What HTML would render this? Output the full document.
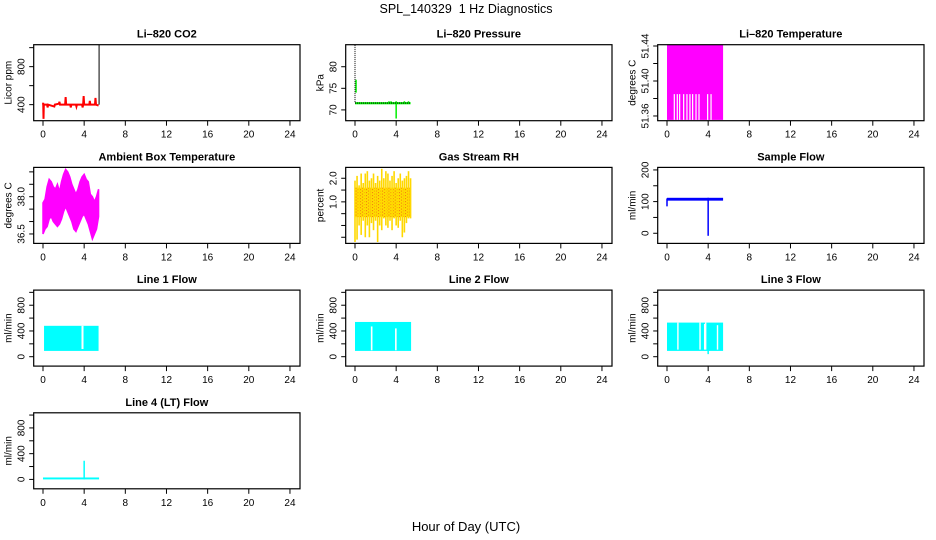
<!DOCTYPE html>
<html><head><meta charset="utf-8"><style>
body{margin:0;background:#fff}
svg{display:block;font-family:"Liberation Sans",sans-serif}
</style></head><body>
<svg id="c" width="936" height="540" viewBox="0 0 936 540">
<defs><pattern id="dots" width="3" height="3" patternUnits="userSpaceOnUse"><rect width="3" height="3" fill="#ffea00"/><rect x="0" y="0" width="1.2" height="1.2" fill="#e8281e"/><rect x="1.5" y="1.5" width="1.2" height="1.2" fill="#e8281e"/></pattern></defs>
<text x="466" y="13" text-anchor="middle" font-size="12.5">SPL_140329&#160; 1 Hz Diagnostics</text>
<text x="466" y="531" text-anchor="middle" font-size="13">Hour of Day (UTC)</text>
</svg>
<script>
const xTicks=[0,4,8,12,16,20,24];
// CO2
const co2T=[0,0.02,0.05,0.08,0.4,0.45,0.5,1.1,1.15,1.55,1.6,1.65,2.15,2.2,2.25,2.65,2.7,2.75,3.2,3.25,3.3,3.8,3.85,3.9,3.95,4.0,4.5,4.55,4.6,5.05,5.1,5.15,5.4];
const co2V=[400,420,250,400,400,370,400,380,400,410,430,400,400,480,400,400,370,400,400,380,400,400,370,400,490,400,400,440,400,400,470,400,390];
const co2SpikeT=[5.45,5.45];const co2SpikeV=[400,1030];
// Pressure
const presBand=[0,5.4,71.3,71.8];
const presSpikeT=[0.1,4.0,3.3,3.5,4.8,5.2];const presSpikeLo=[74,68,71.5,71.5,71.5,71.5];const presSpikeHi=[77,72,72,72,72,72];
const presStartV=[85,71.6];
// Li-820 temperature
const ltBand=[0,5.45,51.3555,51.4415];
const ltGapT=[0.71,1.0,1.23,1.62,1.94,2.23,2.49,2.82,3.11,3.95,4.28];const ltGapLo=51.3555, ltGapHi=51.385;
// Ambient
const ambT=[0,0.2,0.4,0.6,0.8,1.0,1.2,1.4,1.6,1.8,2.0,2.2,2.4,2.6,2.8,3.0,3.2,3.4,3.6,3.8,4.0,4.2,4.4,4.6,4.8,5.0,5.2,5.4];
const ambHi=[37.75,37.9,38.4,38.7,38.6,38.4,38.3,38.5,38.2,38.6,38.9,39.1,39.0,38.8,38.5,38.3,38.1,38.3,38.6,38.8,38.9,38.7,38.6,38.1,38.0,37.8,38.0,38.3];
const ambLo=[36.5,36.7,36.8,37.1,37.2,37.0,36.9,36.8,36.9,37.1,37.4,37.6,37.4,37.2,37.0,36.7,36.6,36.8,37.0,37.2,37.3,37.1,36.9,36.6,36.3,36.5,36.7,37.2];
// RH
const rhT=[0,0.2,0.4,0.6,0.8,1.0,1.2,1.4,1.6,1.8,2.0,2.2,2.4,2.6,2.8,3.0,3.2,3.4,3.6,3.8,4.0,4.2,4.4,4.6,4.8,5.0,5.2,5.4];
const rhHi=[1.9,2.1,1.7,2.2,1.8,2.2,2.3,1.9,2.0,2.2,1.8,2.1,1.9,2.4,2.0,2.3,2.2,1.9,2.1,2.3,1.8,2.0,2.2,1.9,2.0,2.1,2.3,2.0];
const rhLo=[-0.7,-0.6,0.0,-0.4,0.2,-0.5,0.0,-0.5,0.1,-0.2,0.2,-0.7,0.0,-0.2,0.3,0.0,-0.1,0.2,-0.2,0.3,0.0,-0.1,0.2,-0.5,-0.3,0.1,0.3,0.3];
const rhCore=[0,5.4,0.35,1.6];
// Sample flow
const sfBand=[0,5.45,103,112];
const sfSpikeT=[0,4.0];const sfSpikeLo=[85,-8];const sfSpikeHi=[110,112];
// Line flows
const l1Band=[0.1,5.4,90,480];const l1GapT=[3.8];const l1GapLo=[120];const l1GapHi=[480];
const l2Band=[0,5.45,90,540];const l2GapT=[1.6,3.95];const l2GapLo=[100,100];const l2GapHi=[470,440];
const l3Band=[0,5.45,90,530];const l3GapT=[1.05,3.2,3.65,3.75,4.9];const l3GapLo=[110,110,110,110,110];const l3GapHi=[530,530,510,530,490];
const l3SpikeT=[4.0];const l3SpikeLo=[40];const l3SpikeHi=[200];
const l4Band=[0,5.45,0,30];const l4SpikeT=[4.0];const l4SpikeLo=[0];const l4SpikeHi=[290];

const svg=document.getElementById('c');const NS='http://www.w3.org/2000/svg';
function mk(tag,attrs,parent){const e=document.createElementNS(NS,tag);for(const k in attrs)e.setAttribute(k,attrs[k]);(parent||svg).appendChild(e);return e;}
function panel(r,c,title,ylab,ymin,ymax,yticks,ylabels,name){
  const L=33.7+312*c,T=44.7+122.7*r,W=266.3,H=76,x0=L+9.3,sx=10.29;
  const g=mk('g',{});
  
  
  const X=t=>x0+t*sx, Y=v=>T+H-(v-ymin)/(ymax-ymin)*H;
  const plot=mk('g',{},g);
  
  
  const box=mk('rect',{x:L,y:T,width:W,height:H,fill:'none',stroke:'#000','stroke-width':1.2},g);
  
  
  const tt=mk('text',{x:L+W/2,y:T-7,'text-anchor':'middle','font-size':11,'font-weight':'bold'},g);tt.textContent=title;
  
  
  xTicks.forEach(t=>{mk('line',{x1:X(t),x2:X(t),y1:T+H,y2:T+H+5,stroke:'#000'},g);
    const tx=mk('text',{x:X(t),y:T+H+17,'text-anchor':'middle','font-size':10},g);tx.textContent=t;
    
    });
  yticks.forEach(v=>{mk('line',{x1:L-4.5,x2:L,y1:Y(v),y2:Y(v),stroke:'#000'},g);});
  ylabels.forEach(v=>{const tx=mk('text',{x:0,y:0,'text-anchor':'middle','font-size':10,transform:`translate(${L-9},${Y(v)}) rotate(-90)`},g);tx.textContent=v;
    
    });
  const yl=mk('text',{x:0,y:0,'text-anchor':'middle','font-size':10,transform:`translate(${L-22},${T+H/2}) rotate(-90)`},g);yl.textContent=ylab;
  
  
  return {X,Y,p:plot};
}
function band(P,b,fill){mk('rect',{x:P.X(b[0]),y:P.Y(b[3]),width:P.X(b[1])-P.X(b[0]),height:Math.max(1,P.Y(b[2])-P.Y(b[3])),fill:fill},P.p);}
function gaps(P,ts,lo,hi,w){ts.forEach((t,i)=>{const l=Array.isArray(lo)?lo[i]:lo,h=Array.isArray(hi)?hi[i]:hi;mk('rect',{x:P.X(t)-0.6,y:P.Y(h),width:w||1.4,height:P.Y(l)-P.Y(h),fill:'#fff'},P.p);});}
function spikes(P,ts,lo,hi,col,w){ts.forEach((t,i)=>{mk('line',{x1:P.X(t),x2:P.X(t),y1:P.Y(lo[i]),y2:P.Y(hi[i]),stroke:col,'stroke-width':w||1.5},P.p);});}
function line(P,ts,vs,col,w,dash){const pts=ts.map((t,i)=>P.X(t)+','+P.Y(vs[i])).join(' ');const a={points:pts,fill:'none',stroke:col,'stroke-width':w};if(dash)a['stroke-dasharray']=dash;mk('polyline',a,P.p);}

let P;
P=panel(0,0,'Li\u2013820 CO2','Licor ppm',231,1031,[400,600,800,1000],[400,800],'co2');
line(P,co2T,co2V,'#ff0000',2);line(P,co2SpikeT,co2SpikeV,'#000',1);
P=panel(0,1,'Li\u2013820 Pressure','kPa',67.5,85.1,[70,75,80],[70,75,80],'pressure');
band(P,presBand,'#00ee00');spikes(P,presSpikeT,presSpikeLo,presSpikeHi,'#00ee00',1.5);
line(P,[0,0],presStartV,'#000',1,'1,1');line(P,[0,5.4],[71.6,71.6],'#000',1,'1,1');
P=panel(0,2,'Li\u2013820 Temperature','degrees C',51.3546,51.4415,[51.36,51.38,51.40,51.42,51.44],['51.36','51.40','51.44'],'li820-temp');
band(P,ltBand,'#ff00ff');gaps(P,ltGapT,ltGapLo,ltGapHi,1.2);
P=panel(1,0,'Ambient Box Temperature','degrees C',36.12,39.18,[36.5,37,37.5,38,38.5,39],['36.5','38.0'],'ambient-temp');
{const pts=ambT.map((t,i)=>P.X(t)+','+P.Y(ambHi[i])).concat(ambT.slice().reverse().map((t,i)=>P.X(t)+','+P.Y(ambLo[ambLo.length-1-i]))).join(' ');mk('polygon',{points:pts,fill:'#ff00ff',stroke:'#ff00ff','stroke-width':1.5},P.p);}
P=panel(1,1,'Gas Stream RH','percent',-0.76,2.46,[-0.5,0,0.5,1,1.5,2],['\u22120.5','1.0','2.0'],'rh');
band(P,rhCore,'url(#dots)');spikes(P,rhT,rhLo,rhHi,'#ffd800',1.6);
P=panel(1,2,'Sample Flow','ml/min',-32,208,[0,50,100,150,200],[0,100,200],'sample-flow');
band(P,sfBand,'#0000ff');spikes(P,sfSpikeT,sfSpikeLo,sfSpikeHi,'#0000ff',1.5);
const fT=[0,200,400,600,800,1000],fL=[0,400,800];
P=panel(2,0,'Line 1 Flow','ml/min',-146,1035,fT,fL,'line1-flow');band(P,l1Band,'#00ffff');gaps(P,l1GapT,l1GapLo,l1GapHi,2);
P=panel(2,1,'Line 2 Flow','ml/min',-146,1035,fT,fL,'line2-flow');band(P,l2Band,'#00ffff');gaps(P,l2GapT,l2GapLo,l2GapHi,1.6);
P=panel(2,2,'Line 3 Flow','ml/min',-146,1035,fT,fL,'line3-flow');band(P,l3Band,'#00ffff');gaps(P,l3GapT,l3GapLo,l3GapHi,1.4);spikes(P,l3SpikeT,l3SpikeLo,l3SpikeHi,'#00ffff',1.5);
P=panel(3,0,'Line 4 (LT) Flow','ml/min',-146,1035,fT,fL,'line4-flow');band(P,l4Band,'#00ffff');spikes(P,l4SpikeT,l4SpikeLo,l4SpikeHi,'#00ffff',1.5);
</script>
</body></html>
